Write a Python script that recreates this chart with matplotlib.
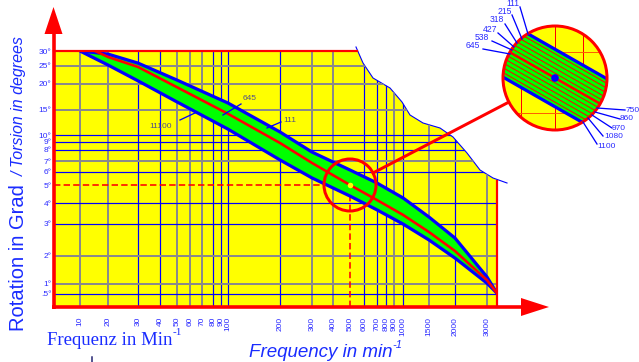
import numpy as np
import matplotlib
matplotlib.use("Agg")
import matplotlib.pyplot as plt
from matplotlib import transforms as mtransforms
from matplotlib.patches import Circle, Polygon

plt.rcParams['font.family'] = ['Liberation Sans', 'DejaVu Sans']

# ---------------- data ----------------
freq_ticks = [10, 20, 30, 40, 50, 60, 70, 80, 90, 100, 200, 300, 400, 500,
              600, 700, 800, 900, 1000, 1500, 2000, 3000]
freq_labels = [str(v) for v in freq_ticks]
deg_ticks = [0.5, 1, 2, 3, 4, 5, 6, 7, 8, 9, 10, 15, 20, 25, 30]
deg_labels = ['.5°', '1°', '2°', '3°', '4°', '5°', '6°', '7°', '8°', '9°',
              '10°', '15°', '20°', '25°', '30°']
vgrid_gray = [10, 20, 50, 60, 70, 300, 400, 900, 1500, 3000]
hgrid_gray = [25, 20, 15, 7, 2, 1]

band_freq = [10, 20, 30, 50, 100, 200, 300, 500, 700, 1000, 1500, 2000, 3000, 3400]
band_upper = [30, 28.9, 25.9, 21.0, 16.2, 10.5, 7.8, 6.17, 5.14, 4.26, 3.30, 2.51, 1.19, 0.536]
band_lower = [30, 25.3, 20.8, 16.4, 11.0, 7.09, 5.52, 4.36, 3.64, 3.0, 2.45, 1.90, 1.02, 0.536]
center_freq = [14.5, 20, 30, 50, 100, 200, 300, 500, 700, 1000, 1500, 2000, 3000, 3400]
center_deg = [30, 27.9, 24.7, 19.3, 14.1, 8.87, 6.81, 5.0, 4.15, 3.40, 2.71, 2.13, 1.10, 0.536]
op_freq, op_deg = 500, 5
zoom_left = ['111', '215', '318', '427', '538', '645']
zoom_right = ['750', '860', '970', '1080', '1100']

# axis calibration of the hand-drawn scales (value -> pixel)
x_cal_vals = [5] + freq_ticks + [5000]
x_cal_px = [52, 80, 108, 138, 160, 177, 190, 202, 213, 221, 228, 280, 312, 333, 350,
            364, 377, 386, 394, 403, 429, 455, 487, 527]
y_cal_vals = [0.1] + deg_ticks + [40]
y_cal_px = [317, 294, 284, 256, 224, 203, 185, 172, 161, 150, 142, 135, 110, 84, 66, 51, 27]

BLUE = '#0000ff'
GRAY = '#8a8a8a'
RED = '#ff0000'
TXT = '#2a2aff'

W, H = 639, 362
fig = plt.figure(figsize=(W / 100, H / 100), dpi=100)
pix = mtransforms.Affine2D().scale(1.0 / W, -1.0 / H).translate(0, 1) + fig.transFigure
PT = 0.72  # points per pixel

L, R, T, B = 53.5, 497, 51, 307
ax = fig.add_axes([L / W, 1 - B / H, (R - L) / W, (B - T) / H])
ax.set_facecolor('none')
for s in ax.spines.values():
    s.set_visible(False)

xcv = np.log10(x_cal_vals); xcp = np.array(x_cal_px, float)
ycv = np.log10(y_cal_vals); ycp = -np.array(y_cal_px, float)

def fx(v):
    v = np.clip(np.asarray(v, float), 1e-6, None)
    return np.interp(np.log10(v), xcv, xcp)

def fx_inv(p):
    return 10 ** np.interp(np.asarray(p, float), xcp, xcv)

def fy(v):
    v = np.clip(np.asarray(v, float), 1e-6, None)
    return np.interp(np.log10(v), ycv, ycp)

def fy_inv(q):
    return 10 ** np.interp(np.asarray(q, float), ycp, ycv)

ax.set_xscale('function', functions=(fx, fx_inv))
ax.set_yscale('function', functions=(fy, fy_inv))
xlim = (float(fx_inv(L)), float(fx_inv(R)))
ylim = (float(fy_inv(-B)), float(fy_inv(-T)))
ax.set_xlim(*xlim)
ax.set_ylim(*ylim)
ax.set_autoscale_on(False)

# yellow field with torn upper-right corner
tear_px = [(356, 47), (363, 63), (373, 78), (390, 88), (402, 102), (410, 115), (423, 123),
           (440, 128), (453, 137), (467, 153), (480, 170), (493, 178), (507, 183)]
yverts = [(L, T), (358, T)] + [p for p in tear_px if p[1] > T + 3 and p[0] < R] + \
         [(R, 180), (R, B), (L, B)]
ypoly = Polygon(yverts, closed=True, transform=pix, facecolor='#ffff00',
                edgecolor='none', zorder=0, clip_on=False)
ax.add_patch(ypoly)
tx, ty = zip(*tear_px)
ax.plot(tx, ty, color=BLUE, lw=0.8, transform=pix, clip_on=False, zorder=1)

# grid
for v in freq_ticks:
    if v == op_freq:
        continue
    g = v in vgrid_gray
    ln, = ax.plot([v, v], ylim, color=GRAY if g else BLUE, lw=(2.0 if g else 1.2) * PT,
                  zorder=1)
    ln.set_clip_path(ypoly)
for v in deg_ticks:
    if v in (op_deg, 30):
        continue
    g = v in hgrid_gray
    ln, = ax.plot(xlim, [v, v], color=GRAY if g else BLUE, lw=(2.0 if g else 1.2) * PT,
                  zorder=1)
    ln.set_clip_path(ypoly)

# operating point guides
ax.plot([xlim[0], op_freq], [op_deg, op_deg], color=RED, lw=1.6 * PT, ls=(0, (4, 2)), zorder=2)
ax.plot([op_freq, op_freq], [ylim[0], op_deg], color=RED, lw=1.6 * PT, ls=(0, (4, 2)), zorder=2)

# band
ax.fill_between(band_freq, band_lower, band_upper, color='#00ff00', lw=0, zorder=2)
ax.plot(band_freq, band_upper, color=BLUE, lw=3.2 * PT, zorder=3, solid_capstyle='butt')
ax.plot(band_freq, band_lower, color=BLUE, lw=3.2 * PT, zorder=3, solid_capstyle='butt')
ax.plot(center_freq, center_deg, color=RED, lw=2.6 * PT, zorder=3.5)
ax.plot([op_freq], [op_deg], 'o', color='#ffff00', ms=4, mec='none', zorder=6)

# frame lines and arrows
def pline(xs, ys, **kw):
    ax.plot(xs, ys, transform=pix, clip_on=False, **kw)

pline([L, 357], [T, T], color=RED, lw=2.2 * PT, zorder=4)
pline([R, R], [181, B], color=RED, lw=2.2 * PT, zorder=4)
pline([L, L], [B + 1.5, 30], color=RED, lw=3.6 * PT, zorder=7, solid_capstyle='butt')
pline([L - 1.5, 524], [B, B], color=RED, lw=3.6 * PT, zorder=7, solid_capstyle='butt')
ax.add_patch(Polygon([(L - 9, 34), (L + 9, 34), (L, 7)], closed=True, transform=pix,
                     facecolor=RED, edgecolor='none', clip_on=False, zorder=7))
ax.add_patch(Polygon([(521, B - 9), (521, B + 9), (549, B)], closed=True, transform=pix,
                     facecolor=RED, edgecolor='none', clip_on=False, zorder=7))

# ticks
ax.set_xticks(freq_ticks, freq_labels, rotation=90, fontsize=6, color=TXT)
ax.set_yticks(deg_ticks, deg_labels, fontsize=6, color=TXT)
ax.minorticks_off()
ax.tick_params(axis='x', length=0, pad=7)
ax.tick_params(axis='y', length=0, pad=1.5)

# notes on band
def note(txt, xy, color='#50508a'):
    ax.text(xy[0], xy[1], txt, transform=pix, fontsize=6, color=color, ha='left', va='center',
            clip_on=False, zorder=8)

note('11100', (149, 126))
pline([180, 197], [120, 112], color=BLUE, lw=1.3 * PT, zorder=8)
note('645', (243, 98))
pline([241, 223], [104, 115], color=BLUE, lw=1.3 * PT, zorder=8)
note('111', (283, 120))
pline([281, 267], [122, 128], color=BLUE, lw=1.3 * PT, zorder=8)

# small circle and connector
cx0, cy0 = float(fx(op_freq)), float(-fy(op_deg))
r0 = 26
bcx, bcy, br = 555, 78, 52
ax.add_patch(Circle((cx0, cy0), r0, transform=pix, facecolor='none', edgecolor=RED,
                    lw=3 * PT, clip_on=False, zorder=6))
d = np.array([bcx - cx0, bcy - cy0]); d /= np.hypot(*d)
p1 = np.array([cx0, cy0]) + r0 * d
p2 = np.array([bcx, bcy]) - br * d
pline([p1[0], p2[0]], [p1[1], p2[1]], color=RED, lw=3 * PT, zorder=6)

# magnified circle
clipc = Circle((bcx, bcy), br, transform=pix)
ax.add_patch(Circle((bcx, bcy), br, transform=pix, facecolor='#ffff00', edgecolor='none',
                    clip_on=False, zorder=9))

def clipit(artist):
    artist.set_clip_on(True)
    artist.set_clip_box(None)
    artist.set_clip_path(clipc)

def cline(xs, ys, **kw):
    ln, = ax.plot(xs, ys, transform=pix, **kw)
    clipit(ln)
    return ln

for gx in (521, 555, 583):
    cline([gx, gx], [bcy - br, bcy + br], color=RED, lw=1.0 * PT, zorder=9.2)
for gy in (52, 113):
    cline([bcx - br, bcx + br], [gy, gy], color='#ff6000', lw=1.0 * PT, zorder=9.2)
ang = np.arctan(0.57)
u = np.array([np.cos(ang), np.sin(ang)])
nrm = np.array([-np.sin(ang), np.cos(ang)])
c = np.array([bcx, bcy])
half = 25
span = 70
quad = [c - span * u - half * nrm, c + span * u - half * nrm,
        c + span * u + half * nrm, c - span * u + half * nrm]
gp = Polygon(quad, closed=True, transform=pix, facecolor='#00ff00', edgecolor='none',
             zorder=9.4)
ax.add_patch(gp)
clipit(gp)
for off in np.linspace(-21, 21, 11):
    a = c - span * u + off * nrm
    b = c + span * u + off * nrm
    cline([a[0], b[0]], [a[1], b[1]], color=RED, lw=(2.4 if abs(off) < 1 else 1.0) * PT,
          zorder=9.5)
for off in (-half, half):
    a = c - span * u + off * nrm
    b = c + span * u + off * nrm
    cline([a[0], b[0]], [a[1], b[1]], color=BLUE, lw=3.2 * PT, zorder=9.6)
ax.add_patch(Circle((bcx, bcy), br, transform=pix, facecolor='none', edgecolor=RED,
                    lw=3 * PT, clip_on=False, zorder=9.8))
ax.add_patch(Circle((bcx, bcy), 3.8, transform=pix, facecolor=BLUE, edgecolor='none',
                    clip_on=False, zorder=9.9))

# labels around magnified circle
left_txt_pos = [(513, 3), (505, 11), (497, 20), (490, 29), (482, 37), (473, 46)]
left_lines = [((520, 7), (528, 34)), ((512, 15), (522, 39)), ((505, 24), (517, 43)),
              ((498, 33), (514, 47)), ((492, 41), (512, 50)), ((483, 49), (510, 54))]
for t, pos, (a, b) in zip(zoom_left, left_txt_pos, left_lines):
    ax.text(pos[0], pos[1], t, transform=pix, fontsize=6.2, color=TXT, ha='center',
            va='center', clip_on=False, zorder=10)
    pline([a[0], b[0]], [a[1], b[1]], color=BLUE, lw=1.3 * PT, zorder=10)
right_txt_pos = [(626, 111), (620, 119), (612, 128), (604, 137), (597, 146)]
right_lines = [((625, 110), (597, 108)), ((620, 119), (595, 112)), ((612, 128), (592, 115)),
               ((603, 136), (588, 118)), ((597, 144), (583, 122))]
for t, pos, (a, b) in zip(zoom_right, right_txt_pos, right_lines):
    ax.text(pos[0], pos[1], t, transform=pix, fontsize=6.0, color=TXT, ha='left',
            va='center', clip_on=False, zorder=10)
    pline([a[0], b[0]], [a[1], b[1]], color=BLUE, lw=1.3 * PT, zorder=10)

# axis titles
ax.text(24, 331, 'Rotation in Grad', transform=pix, rotation=90, rotation_mode='anchor',
        ha='left', va='baseline', fontsize=14.5, color='#1a2cff', clip_on=False)
ax.text(24, 176, '/ Torsion in degrees', transform=pix, rotation=90, rotation_mode='anchor',
        ha='left', va='baseline', fontsize=11.5, style='italic', color='#1a2cff', clip_on=False)
t1 = ax.text(47, 345, 'Frequenz in Min', transform=pix, ha='left', va='baseline',
             fontsize=13.5, family=['Liberation Serif', 'DejaVu Serif'], color='#1a2cff',
             clip_on=False)
ax.annotate('-1', xy=(1, 0.95), xycoords=t1, ha='left', va='center', fontsize=8,
            family=['Liberation Serif', 'DejaVu Serif'], color='#1a2cff')
t2 = ax.text(249, 357, 'Frequency in min', transform=pix, ha='left', va='baseline',
             fontsize=13.5, style='italic', color='#1a2cff', clip_on=False)
ax.annotate('-1', xy=(1, 0.95), xycoords=t2, ha='left', va='center', fontsize=8,
            style='italic', color='#1a2cff')
pline([92, 92], [357, 362], color='#202070', lw=1.5 * PT, zorder=3)

fig.savefig('out.png', dpi=100)
